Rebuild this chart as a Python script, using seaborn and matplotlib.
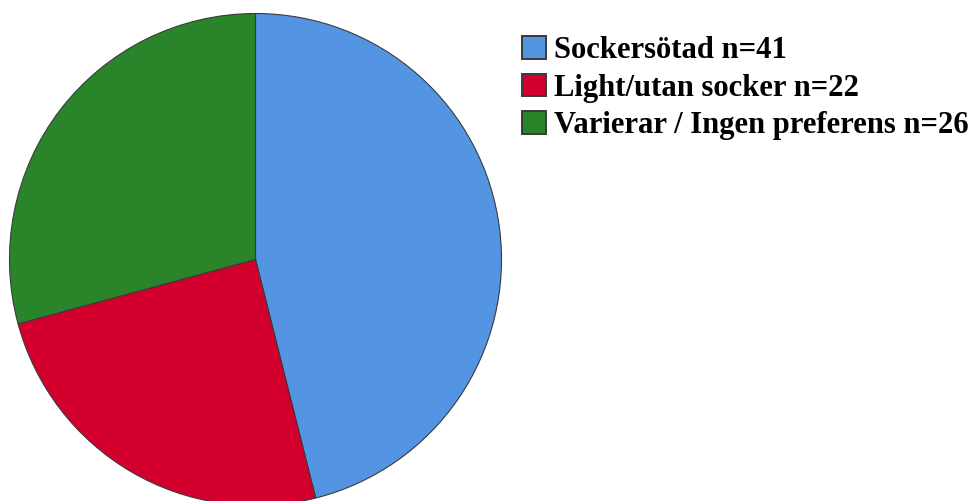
import matplotlib
matplotlib.use("Agg")
import matplotlib.pyplot as plt
import seaborn as sns

categories = ["Sockersötad", "Light/utan socker", "Varierar / Ingen preferens"]
counts = [41, 22, 26]
colors = ["#5495E3", "#D3002D", "#2A852A"]

sns.set_theme(style="white")
plt.rcParams["font.family"] = ["Liberation Serif", "DejaVu Serif"]
plt.rcParams["text.color"] = "black"

W, H = 973, 501
fig = plt.figure(figsize=(W / 100, H / 100), dpi=100)
ax = fig.add_axes([0, 0, 1, 1])

wedges, _ = ax.pie(
    counts,
    colors=colors,
    startangle=90,
    counterclock=False,
    center=(255.5, H - 259.5),
    radius=246,
    wedgeprops=dict(edgecolor="#3a3a3a", linewidth=0.8),
    frame=True,
)
ax.set_xlim(0, W)
ax.set_ylim(0, H)
ax.set_aspect("equal")
ax.axis("off")

labels = [f"{c} n={n}" for c, n in zip(categories, counts)]
leg = ax.legend(
    wedges,
    labels,
    loc="upper left",
    bbox_to_anchor=(522, H - 36),
    bbox_transform=ax.transData,
    frameon=False,
    prop=dict(family="Liberation Serif", weight="bold", size=22.1),
    handlelength=0.78,
    handleheight=0.76,
    handletextpad=0.25,
    labelspacing=0.28,
    borderpad=0,
    borderaxespad=0,
    labelcolor="black",
)
for h in leg.legend_handles:
    h.set_edgecolor("#3a3a3a")
    h.set_linewidth(1.4)

fig.savefig("out.png", dpi=100, facecolor="white")
